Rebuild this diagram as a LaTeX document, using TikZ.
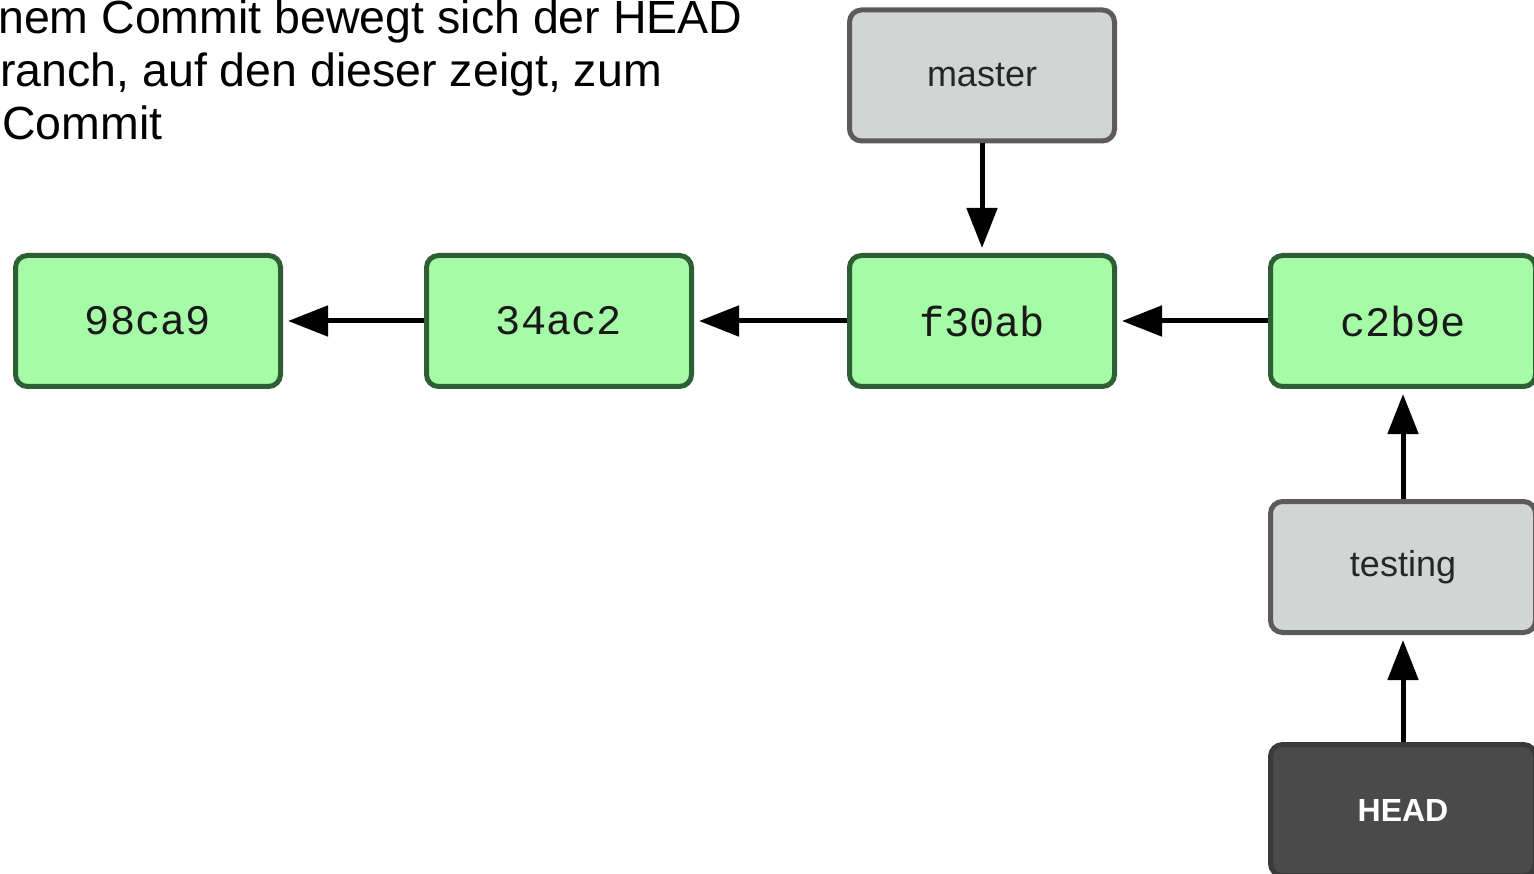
\documentclass[tikz,border=0pt]{standalone}
\usepackage{fontspec}
\setmainfont{Liberation Sans}
\newfontfamily\monofont{Liberation Mono}
\usetikzlibrary{arrows.meta}
\definecolor{cfill}{RGB}{166,252,166}
\definecolor{cdraw}{RGB}{46,94,52}
\definecolor{gfill}{RGB}{209,214,212}
\definecolor{gdraw}{RGB}{94,90,90}
\definecolor{hfill}{RGB}{74,74,74}
\definecolor{hdraw}{RGB}{58,58,58}
\tikzset{
  box/.style={rectangle, rounded corners=12pt, line width=5pt, minimum width=265pt, minimum height=131pt, inner sep=0pt},
  commit/.style={box, fill=cfill, draw=cdraw, font=\monofont\fontsize{42}{42}\selectfont, text=black!90},
  branch/.style={box, fill=gfill, draw=gdraw, font=\fontsize{36}{36}\selectfont, text=black!85},
  headbox/.style={box, fill=hfill, draw=hdraw, font=\fontsize{32}{32}\selectfont\bfseries, text=white},
  conn/.style={line width=5pt, -{Triangle[length=40pt,width=30pt]}, shorten >=5pt},
  caption/.style={anchor=base west, inner sep=0pt, font=\fontsize{46.5}{46.5}\selectfont}
}
\begin{document}
\begin{tikzpicture}[x=1pt,y=-1pt]
\useasboundingbox (0,0) rectangle (1534,874);
\clip (0,0) rectangle (1534,874);
\fill[white] (0,0) rectangle (1534,874);
\node[caption] (l1) at (-2,34) {nem Commit bewegt sich der HEAD};
\node[caption] (l2) at (0,87) {ranch, auf den dieser zeigt, zum};
\node[caption] (l3) at (2,140) {Commit};
\node[commit] (c1) at (148,321) {98ca9};
\node[commit] (c2) at (559,321) {34ac2};
\node[commit] (c3) at (982,321) {f30ab};
\node[commit] (c4) at (1403,321) {c2b9e};
\node[branch] (master) at (982,75.5) {master};
\node[branch] (testing) at (1403,567) {testing};
\node[headbox] (head) at (1403,810) {HEAD};
\draw[conn] (c2) -- (c1);
\draw[conn] (c3) -- (c2);
\draw[conn] (c4) -- (c3);
\draw[conn] (master) -- (c3);
\draw[conn] (testing) -- (c4);
\draw[conn] (head) -- (testing);
\end{tikzpicture}
\end{document}
